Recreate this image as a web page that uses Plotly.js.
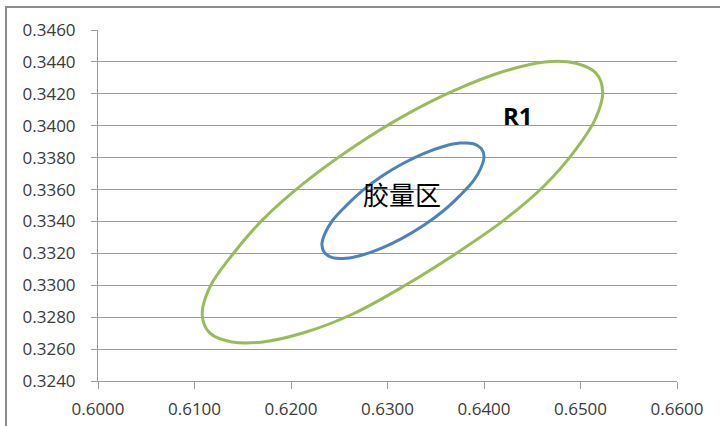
<!DOCTYPE html>
<html>
<head>
<meta charset="utf-8">
<script src="https://cdn.plot.ly/plotly-3.0.1.min.js"></script>
<style>
  html, body { margin: 0; padding: 0; background: #ffffff; }
  #wrap { position: relative; width: 720px; height: 426px; overflow: hidden; }
  #chart { position: absolute; left: 0; top: 0; width: 720px; height: 426px; }
  #frame { position: absolute; left: 5px; top: 6px; width: 730px; height: 440px;
           border-left: 2px solid #8c8c8c; border-top: 2px solid #8c8c8c; pointer-events: none; }
</style>
</head>
<body>
<div id="wrap">
  <div id="chart"></div>
  <div id="frame"></div>
</div>
<script>
// Outer ellipse "R1" (green)
const r1X = [0.6523, 0.6516, 0.6495, 0.6463, 0.6420, 0.6370, 0.6317, 0.6264, 0.6214, 0.6171, 0.6139, 0.6116,
             0.6108, 0.6116, 0.6139, 0.6171, 0.6214, 0.6264, 0.6317, 0.6370, 0.6420, 0.6463, 0.6495, 0.6516, 0.6523];
const r1Y = [0.34213, 0.34330, 0.34392, 0.34400, 0.34340, 0.34223, 0.34062, 0.33864, 0.33643, 0.33413, 0.33190, 0.32990,
             0.32815, 0.32700, 0.32645, 0.32645, 0.32704, 0.32820, 0.32995, 0.33195, 0.33405, 0.33627, 0.33850, 0.34050, 0.34213];

// Inner ellipse "胶量区" (blue)
const glueX = [0.6400, 0.6397, 0.6389, 0.6375, 0.6358, 0.6338, 0.6316, 0.6294, 0.6274, 0.6257, 0.6243, 0.6235,
               0.6232, 0.6235, 0.6243, 0.6257, 0.6274, 0.6294, 0.6316, 0.6338, 0.6358, 0.6375, 0.6389, 0.6397, 0.6400];
const glueY = [0.33807, 0.33858, 0.33887, 0.33891, 0.33870, 0.33827, 0.33763, 0.33683, 0.33593, 0.33498, 0.33406, 0.33322,
               0.33253, 0.33202, 0.33173, 0.33169, 0.33190, 0.33233, 0.33297, 0.33377, 0.33467, 0.33562, 0.33654, 0.33738, 0.33807];

const seriesNames = ["R1", "胶量区"];
const xTickVals = [0.60, 0.61, 0.62, 0.63, 0.64, 0.65, 0.66];
const yTickVals = [0.324, 0.326, 0.328, 0.330, 0.332, 0.334, 0.336, 0.338, 0.340, 0.342, 0.344, 0.346];

const traces = [
  { x: r1X, y: r1Y, name: seriesNames[0], type: "scatter", mode: "lines",
    line: { color: "#9BBB59", width: 3, shape: "spline", smoothing: 1 }, hoverinfo: "skip" },
  { x: glueX, y: glueY, name: seriesNames[1], type: "scatter", mode: "lines",
    line: { color: "#4F81BD", width: 3, shape: "spline", smoothing: 1 }, hoverinfo: "skip" }
];

const tickFont = { family: "Open Sans, Liberation Sans, sans-serif", size: 17, color: "#3a3a3a" };

const layout = {
  width: 720, height: 426,
  margin: { l: 98, r: 43, t: 30, b: 45, pad: 0 },
  paper_bgcolor: "rgba(0,0,0,0)", plot_bgcolor: "#ffffff",
  showlegend: false,
  xaxis: {
    range: [0.60, 0.66], tickvals: xTickVals, tickformat: ".4f",
    showgrid: false, zeroline: false, showline: true, linecolor: "#9a9a9a", linewidth: 1,
    ticks: "outside", ticklen: 7, tickcolor: "#9a9a9a", tickwidth: 1,
    tickfont: tickFont, ticklabelstandoff: 6
  },
  yaxis: {
    range: [0.324, 0.346], tickvals: yTickVals, tickformat: ".4f",
    showgrid: true, gridcolor: "#9a9a9a", gridwidth: 1, zeroline: false,
    showline: true, linecolor: "#9a9a9a", linewidth: 1,
    ticks: "outside", ticklen: 6, tickcolor: "#9a9a9a", tickwidth: 1,
    tickfont: tickFont, ticklabelstandoff: 12
  },
  annotations: [
    { x: 0.6435, y: 0.34065, xref: "x", yref: "y", text: "<b>R1</b>", showarrow: false,
      font: { family: "Open Sans, Liberation Sans, sans-serif", size: 24, color: "#000000" } },
    { x: 0.6315, y: 0.33578, xref: "x", yref: "y", text: "胶量区", showarrow: false,
      font: { family: "Noto Sans CJK SC, sans-serif", size: 26, color: "#000000" } }
  ]
};

Plotly.newPlot("chart", traces, layout, { displayModeBar: false, staticPlot: true });
</script>
</body>
</html>
